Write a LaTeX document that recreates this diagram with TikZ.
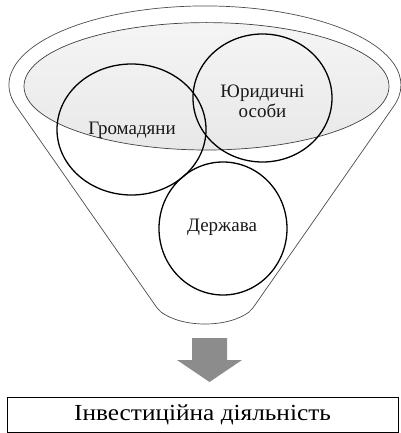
\documentclass[tikz,border=0pt]{standalone}
\usepackage{fontspec}
\setmainfont{Liberation Serif}
\newfontfamily\boxfont[FakeStretch=1.1]{Liberation Serif}
\begin{document}
\begin{tikzpicture}[x=1pt,y=-1pt,
  funnelline/.style={draw=black!70,line width=0.7pt},
  innerell/.style={draw=black!75,line width=0.7pt,top color=black!4,bottom color=black!9},
  lbl/.style={font=\fontsize{19}{20}\selectfont,align=center,text=black!90},
  arrowfill/.style={fill=black!45,draw=none},
  resbox/.style={draw=black,line width=1pt,minimum width=391pt,minimum height=35pt,inner sep=0pt,font=\boxfont\fontsize{23}{26}\selectfont}
]
\useasboundingbox (0,0) rectangle (400,433);
% funnel outline
\draw[funnelline] (16.2,106.2) arc[start angle=195.6,end angle=-15.6,x radius=196,y radius=-79]
  -- (255,305) .. controls (253,308) .. (249,312)
  .. controls (228,328) and (182,328) .. (161,312)
  .. controls (157,308) .. (155,305) -- cycle;
% inner ellipse
\path[innerell] (206.5,86.3) ellipse[x radius=182.5,y radius=63.7];
% circles
\draw[line width=1.3pt] (131.5,129.5) ellipse[x radius=74.5,y radius=65.5];
\draw[line width=1.3pt] (262.5,98) ellipse[x radius=69.5,y radius=64];
\draw[line width=1.3pt] (223,228.5) ellipse[x radius=64,y radius=66.5];
\node[lbl] (g) at (132,130) {Громадяни};
\node[lbl] (yu) at (262.5,101) {Юридичні\\особи};
\node[lbl] (d) at (222,227) {Держава};
% arrow
\path[arrowfill] (192,338) -- (227,338) -- (227,360) -- (242,360) -- (209.5,382) -- (177,360) -- (192,360) -- cycle;
% result box
\node[resbox] (r) at (202.5,414.5) {Інвестиційна діяльність};
\end{tikzpicture}
\end{document}
